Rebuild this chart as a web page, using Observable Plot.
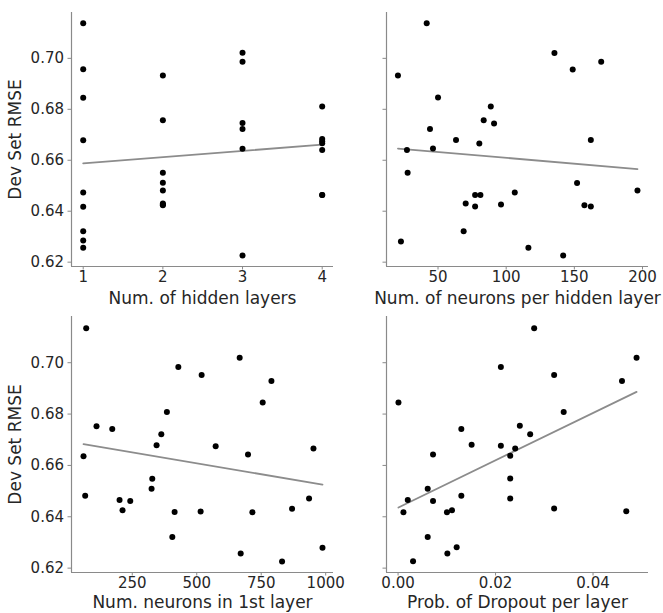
<!DOCTYPE html>
<html>
<head>
<meta charset="utf-8">
<script src="https://cdn.jsdelivr.net/npm/d3@7"></script>
<script src="https://cdn.jsdelivr.net/npm/@observablehq/plot@0.6"></script>
<style>
  html, body { margin: 0; padding: 0; background: #fff; overflow: hidden; }
  #chart { position: relative; width: 663px; height: 613px; }
  #chart > svg { position: absolute; overflow: visible; font-family: "DejaVu Sans", sans-serif; }
  #chart svg g[aria-label$="tick label"] text { font-size: 15px; font-family: "DejaVu Sans", sans-serif; fill: #262626; }
  #chart svg g[aria-label="axis title"] text { font-size: 17px; font-family: "DejaVu Sans", sans-serif; fill: #262626; }
</style>
</head>
<body>
<div id="chart"></div>
<script>
// ---------- data ----------
const yLabel = "Dev Set RMSE";
const yTicks = [0.62, 0.64, 0.66, 0.68, 0.70];

// Panel 1: number of hidden layers
const hiddenLayers = [1,1,1,1,1,1,1,1,1, 2,2,2,2,2,2,2,2, 3,3,3,3,3,3, 4,4,4,4,4,4,4];
const hiddenLayersRMSE = [0.7138,0.6957,0.6845,0.6679,0.6473,0.6418,0.6321,0.6285,0.6257,
  0.6933,0.6757,0.6551,0.6512,0.6481,0.6430,0.6426,0.6423,
  0.7022,0.6987,0.6746,0.6723,0.6645,0.6226,
  0.6811,0.6683,0.6675,0.6667,0.6640,0.6464,0.6464];
const hiddenLayersTicks = [1, 2, 3, 4];

// Panel 2: neurons per hidden layer
const neuronsPerLayer = [41.7,20.6,50,88.7,83.5,91.1,44.1,63.2,162.1,80.3,46.3,27.2,27.7,152.0,77.2,
  81.1,106.3,196.3,70.3,77.2,96.2,157.4,162.1,68.8,22.8,116.3,141.8,135.4,148.8,169.7];
const neuronsPerLayerRMSE = [0.7138,0.6933,0.6846,0.6811,0.6757,0.6744,0.6723,0.6680,0.6680,0.6666,0.6646,0.6640,0.6551,0.6511,0.6464,
  0.6464,0.6473,0.6481,0.6430,0.6419,0.6426,0.6423,0.6419,0.6321,0.6281,0.6257,0.6226,0.7021,0.6956,0.6987];
const neuronsPerLayerTicks = [50, 100, 150, 200];

// Panel 3: neurons in first layer
const firstLayer = [71.4,61,67.5,111.4,172.4,200.7,212.3,242.2,327.6,324.9,344.3,362.6,384.3,428.6,414.2,
  405.3,519,515.1,573.4,666.5,698.8,670.4,715.8,755.8,789.6,869.6,935.6,952.6,987.6,830.8];
const firstLayerRMSE = [0.7134,0.6636,0.6482,0.6753,0.6742,0.6465,0.6425,0.6461,0.6548,0.6509,0.6679,0.6721,0.6808,0.6983,0.6419,
  0.6321,0.6952,0.6421,0.6675,0.7019,0.6643,0.6257,0.6418,0.6845,0.6929,0.6431,0.6471,0.6666,0.6279,0.6226];
const firstLayerTicks = [250, 500, 750, 1000];

// Panel 4: dropout probability
const dropout = [0.02792,0.04893,0.02109,0.03202,0.04594,0.00008,0.03398,0.01298,0.02498,0.02710,0.01509,0.02109,0.02403,0.00717,0.02301,
  0.02301,0.00608,0.00199,0.00717,0.01298,0.02301,0.00110,0.01003,0.01106,0.03202,0.04682,0.00608,0.01202,0.01011,0.00307];
const dropoutRMSE = [0.7134,0.7019,0.6983,0.6952,0.6929,0.6845,0.6808,0.6742,0.6755,0.6721,0.6681,0.6677,0.6666,0.6643,0.6638,
  0.6549,0.6509,0.6465,0.6461,0.6482,0.6471,0.6418,0.6418,0.6425,0.6432,0.6422,0.6321,0.6281,0.6257,0.6227];
const dropoutTicks = [0, 0.02, 0.04];

// ---------- drawing ----------
const textColor = "#262626";
const spineColor = "#8a8a8a";
const fitColor = "#8c8c8c";
const yDomain = [0.6183, 0.7180];

function panel({xs, ys, xLabel, xTicks, xFormat, xDomain, showY, labelDy, left, top, width, height, margins}) {
  const data = xs.map((x, i) => ({x, y: ys[i]}));
  const marks = [
    Plot.ruleY([yDomain[0]], {stroke: spineColor, strokeWidth: 1.2}),
    Plot.ruleX([xDomain[0]], {stroke: spineColor, strokeWidth: 1.2}),
    Plot.axisX({ticks: xTicks, tickFormat: xFormat, tickSize: 3.5, tickPadding: 1.5, stroke: spineColor,
      label: null, fontSize: 15}),
    Plot.axisY({ticks: yTicks, tickFormat: showY ? d3.format(".2f") : () => "", tickSize: 3.5, tickPadding: 4, stroke: spineColor,
      label: null, fontSize: 15}),
    Plot.text([xLabel], {text: d => d, frameAnchor: "bottom", dy: labelDy, lineAnchor: "middle", textAnchor: "middle",
      fontSize: 17, fill: textColor, ariaLabel: "axis title"}),
    Plot.linearRegressionY(data, {x: "x", y: "y", ci: 0, stroke: fitColor, strokeWidth: 1.8}),
    Plot.dot(data, {x: "x", y: "y", r: 3, fill: "#000", stroke: "none"})
  ];
  if (showY) {
    marks.push(Plot.text([yLabel], {text: d => d, frameAnchor: "left", dx: -56, rotate: -90,
      lineAnchor: "middle", textAnchor: "middle", fontSize: 17, fill: textColor, ariaLabel: "axis title"}));
  }
  const svg = Plot.plot({
    width, height,
    marginLeft: margins[0], marginRight: margins[1], marginTop: margins[2], marginBottom: margins[3],
    style: {fontFamily: "DejaVu Sans, sans-serif", fontSize: "15px", color: textColor, background: "transparent"},
    x: {domain: xDomain},
    y: {domain: yDomain},
    marks
  });
  svg.style.left = left + "px";
  svg.style.top = top + "px";
  document.getElementById("chart").appendChild(svg);
}

panel({xs: hiddenLayers, ys: hiddenLayersRMSE, xLabel: "Num. of hidden layers", xTicks: hiddenLayersTicks,
  xFormat: d3.format("d"), xDomain: [0.853, 4.142], showY: true, labelDy: 32,
  left: 0, top: 0, width: 345, height: 310, margins: [71, 12, 12, 44]});
panel({xs: neuronsPerLayer, ys: neuronsPerLayerRMSE, xLabel: "Num. of neurons per hidden layer", xTicks: neuronsPerLayerTicks,
  xFormat: d3.format("d"), xDomain: [12.2, 204.4], showY: false, labelDy: 32,
  left: 330, top: 0, width: 333, height: 310, margins: [56, 15, 12, 44]});
panel({xs: firstLayer, ys: firstLayerRMSE, xLabel: "Num. neurons in 1st layer", xTicks: firstLayerTicks,
  xFormat: d3.format("d"), xDomain: [14.4, 1030.3], showY: true, labelDy: 30,
  left: 0, top: 304, width: 345, height: 309, margins: [71, 12, 12, 41]});
panel({xs: dropout, ys: dropoutRMSE, xLabel: "Prob. of Dropout per layer", xTicks: dropoutTicks,
  xFormat: d3.format(".2f"), xDomain: [-0.002375, 0.05138], showY: false, labelDy: 30,
  left: 330, top: 304, width: 333, height: 309, margins: [56, 15, 12, 41]});
</script>
</body>
</html>
